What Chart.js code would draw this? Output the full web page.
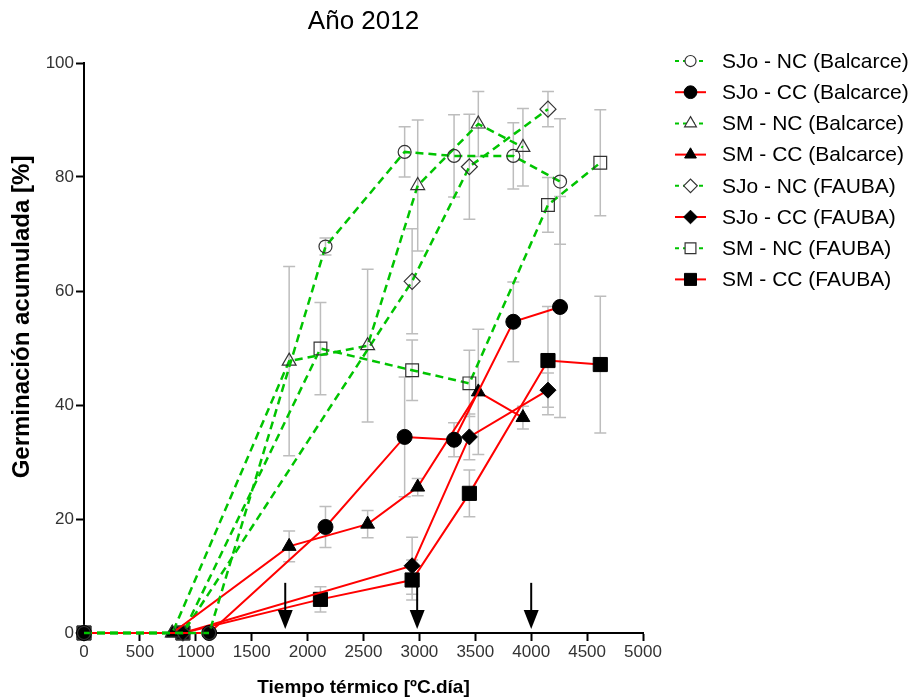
<!DOCTYPE html>
<html>
<head>
<meta charset="utf-8">
<script src="https://cdn.jsdelivr.net/npm/chart.js@4.4.1/dist/chart.umd.min.js"></script>
<style>
  body { margin: 0; background: #fff; }
  canvas { display: block; }
</style>
</head>
<body>
<canvas id="germ-chart" width="913" height="697"></canvas>
<script>
// tiempos térmicos de cada siembra
const tBalSJo = [0, 1120, 2160, 2868, 3310, 3840, 4258];
const tBalSM  = [0, 790, 1835, 2537, 2985, 3527, 3926];
const tFauba  = [0, 885, 2115, 2935, 3447, 4150, 4618];

// germinación acumulada [%]
const sjoNcBal = [0, 0, 67.8, 84.4, 83.7, 83.7, 79.2];
const sjoCcBal = [0, 0, 18.6, 34.4, 33.9, 54.6, 57.2];
const smNcBal  = [0, 0, 47.7, 50.4, 78.5, 89.3, 85.2];
const smCcBal  = [0, 0, 15.2, 19.1, 25.6, 42.3, 37.8];
const sjoNcFau = [0, 0, null, 61.7, 81.8, 91.9, null];
const sjoCcFau = [0, 0, null, 11.8, 34.4, 42.6, null];
const smNcFau  = [0, 0, 49.9, 46.1, 43.8, 75.1, 82.5];
const smCcFau  = [0, 0, 5.9, 9.3, 24.5, 47.8, 47.1];

// error estándar
const sjoNcBalErr = [0, 0, 1.5, 4.4, 7.2, 5.8, 11];
const sjoCcBalErr = [0, 0, 3.6, 10.5, 3, 7, 19.4];
const smNcBalErr  = [0, 0, 16.6, 13.4, 11.5, 5.7, 6.8];
const smCcBalErr  = [0, 0, 2.7, 2.4, 1.5, 11, 2];
const sjoNcFauErr = [0, 0, null, 9.2, 9.2, 3.1, null];
const sjoCcFauErr = [0, 0, null, 5, 4, 3, null];
const smNcFauErr  = [0, 0, 8.1, 5.3, 5.8, 4.8, 9.3];
const smCcFauErr  = [0, 0, 2.2, 3.5, 4.1, 9.5, 12];

// flechas (momentos marcados)
const arrowX = [1800, 2980, 4000];
const arrowTop = 8.8;
const arrowTip = 0.7;

const FONT = "'Liberation Sans', Arial, sans-serif";
const GREEN = '#00c400';
const RED = '#ff0000';

function pts(xs, ys) {
    return xs.map((x, i) => ({ x, y: ys[i] }));
}

function serie(label, xs, ys, errs, nc, style, radius) {
    return {
        label,
        data: pts(xs, ys),
        errors: errs,
        borderColor: nc ? GREEN : RED,
        borderWidth: nc ? 2.5 : 2,
        borderDash: nc ? [8, 5] : [],
        pointStyle: style,
        pointRadius: radius,
        pointBorderWidth: nc ? 1.2 : 1,
        pointBorderColor: nc ? '#333' : '#000',
        pointBackgroundColor: nc ? 'rgba(0,0,0,0)' : '#000',
        tension: 0,
        spanGaps: true,
        clip: false,
    };
}

const errorBars = {
    id: 'errorBars',
    beforeDatasetsDraw(chart) {
        const { ctx, scales: { x, y } } = chart;
        ctx.save();
        ctx.strokeStyle = '#bdbdbd';
        ctx.lineWidth = 1.5;
        chart.data.datasets.forEach(ds => {
            ds.data.forEach((p, i) => {
                const e = ds.errors[i];
                if (p.y == null || !e) return;
                const px = x.getPixelForValue(p.x);
                const y1 = y.getPixelForValue(p.y + e);
                const y2 = y.getPixelForValue(p.y - e);
                ctx.beginPath();
                ctx.moveTo(px, y1); ctx.lineTo(px, y2);
                ctx.moveTo(px - 6, y1); ctx.lineTo(px + 6, y1);
                ctx.moveTo(px - 6, y2); ctx.lineTo(px + 6, y2);
                ctx.stroke();
            });
        });
        ctx.restore();
    }
};

const arrows = {
    id: 'arrows',
    afterDatasetsDraw(chart) {
        const { ctx, scales: { x, y } } = chart;
        ctx.save();
        ctx.strokeStyle = '#000';
        ctx.fillStyle = '#000';
        ctx.lineWidth = 2;
        arrowX.forEach(v => {
            const px = x.getPixelForValue(v);
            const top = y.getPixelForValue(arrowTop);
            const tip = y.getPixelForValue(arrowTip);
            ctx.beginPath();
            ctx.moveTo(px, top); ctx.lineTo(px, tip - 15);
            ctx.stroke();
            ctx.beginPath();
            ctx.moveTo(px - 7.5, tip - 19);
            ctx.lineTo(px + 7.5, tip - 19);
            ctx.lineTo(px, tip);
            ctx.closePath();
            ctx.fill();
        });
        ctx.restore();
    }
};

const sideLegend = {
    id: 'sideLegend',
    afterDraw(chart) {
        const ctx = chart.ctx;
        ctx.save();
        chart.data.datasets.forEach((ds, i) => {
            const yy = 61 + i * 31.2;
            ctx.strokeStyle = ds.borderColor;
            ctx.lineWidth = 2;
            ctx.setLineDash(ds.borderDash.length ? [4, 4] : []);
            ctx.beginPath();
            ctx.moveTo(675, yy); ctx.lineTo(706, yy);
            ctx.stroke();
            ctx.setLineDash([]);
            ctx.strokeStyle = ds.pointBorderColor;
            ctx.fillStyle = ds.pointBackgroundColor === '#000' ? '#000' : '#fff';
            ctx.lineWidth = ds.pointBorderWidth;
            Chart.helpers.drawPoint(ctx, {
                pointStyle: ds.pointStyle, radius: ds.pointRadius * 0.85,
                borderWidth: ds.pointBorderWidth, rotation: 0
            }, 690.5, yy);
            ctx.fillStyle = '#000';
            ctx.font = '21px ' + FONT;
            ctx.textBaseline = 'middle';
            ctx.fillText(ds.label, 722, yy + 1);
        });
        ctx.restore();
    }
};

const titles = {
    id: 'titles',
    afterDraw(chart) {
        const { ctx, chartArea } = chart;
        ctx.save();
        ctx.fillStyle = '#000';
        ctx.textAlign = 'center';
        ctx.textBaseline = 'middle';
        ctx.font = '26px ' + FONT;
        ctx.fillText('Año 2012', (chartArea.left + chartArea.right) / 2, 22);
        ctx.translate(22, 317);
        ctx.rotate(-Math.PI / 2);
        ctx.font = 'bold 24px ' + FONT;
        ctx.fillText('Germinación acumulada [%]', 0, 0);
        ctx.restore();
    }
};

const ctx = document.getElementById('germ-chart').getContext('2d');
new Chart(ctx, {
    type: 'line',
    data: {
        datasets: [
            serie('SJo - NC (Balcarce)', tBalSJo, sjoNcBal, sjoNcBalErr, true, 'circle', 6.5),
            serie('SJo - CC (Balcarce)', tBalSJo, sjoCcBal, sjoCcBalErr, false, 'circle', 7.5),
            serie('SM - NC (Balcarce)', tBalSM, smNcBal, smNcBalErr, true, 'triangle', 8),
            serie('SM - CC (Balcarce)', tBalSM, smCcBal, smCcBalErr, false, 'triangle', 8),
            serie('SJo - NC (FAUBA)', tFauba, sjoNcFau, sjoNcFauErr, true, 'rectRot', 8),
            serie('SJo - CC (FAUBA)', tFauba, sjoCcFau, sjoCcFauErr, false, 'rectRot', 8),
            serie('SM - NC (FAUBA)', tFauba, smNcFau, smNcFauErr, true, 'rect', 9),
            serie('SM - CC (FAUBA)', tFauba, smCcFau, smCcFauErr, false, 'rect', 10),
        ],
    },
    options: {
        responsive: false,
        animation: false,
        layout: { padding: { top: 63, right: 270, left: 0, bottom: 0 } },
        plugins: {
            legend: { display: false },
            tooltip: { enabled: false },
            title: { display: false },
        },
        scales: {
            x: {
                type: 'linear', min: 0, max: 5000,
                ticks: { stepSize: 500, color: '#333', font: { size: 17, family: FONT }, padding: 1,
                         maxRotation: 0, autoSkip: false, callback: v => String(v) },
                grid: { drawOnChartArea: false, tickLength: 8, tickWidth: 2, tickColor: '#000' },
                border: { color: '#000', width: 2 },
                title: { display: true, text: 'Tiempo térmico [ºC.día]', color: '#000', padding: 0,
                         font: { size: 19, weight: 'bold', family: FONT, lineHeight: 1 } },
                afterFit(s) { s.height = 64; },
            },
            y: {
                min: 0, max: 100,
                ticks: { stepSize: 20, color: '#333', font: { size: 17, family: FONT }, padding: 2 },
                grid: { drawOnChartArea: false, tickLength: 8, tickWidth: 2, tickColor: '#000' },
                border: { color: '#000', width: 2 },
                afterFit(s) { s.width = 84; },
            },
        },
    },
    plugins: [errorBars, arrows, sideLegend, titles],
});
</script>
</body>
</html>
